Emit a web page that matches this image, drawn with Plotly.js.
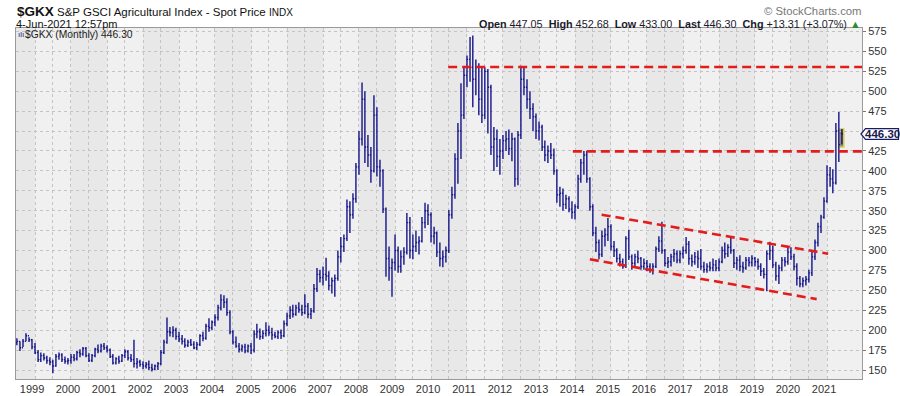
<!DOCTYPE html>
<html><head><meta charset="utf-8">
<script src="https://cdn.plot.ly/plotly-3.0.1.min.js"></script>
<style>html,body{margin:0;padding:0;background:#fff;}#chart{width:900px;height:396px;}</style>
</head><body><div id="chart"></div>
<script>
// ---- data: $GKX monthly OHLC, Jul 1998 .. Jun 2021 ----
const firstYear = 1998, firstMonth = 7;
const yearLabels = ['1999','2000','2001','2002','2003','2004','2005','2006','2007','2008','2009','2010','2011','2012','2013','2014','2015','2016','2017','2018','2019','2020','2021'];
const priceTicks = [150,175,200,225,250,275,300,325,350,375,400,425,450,475,500,525,550,575];
const priceTickLabels = ['150','175','200','225','250','275','300','325','350','375','400','425','','475','500','525','550','575']; // 450 sits under the price tag
const openVals = [
184,186,178,186,193,188,
179,172,163,168,165,162,160,155,167,169,163,161,
162,166,164,172,170,177,168,162,168,176,174,180,
178,175,167,159,164,161,168,173,165,163,158,160,
157,155,157,153,151,155,158,172,185,198,197,200,
192,189,186,181,185,182,178,182,193,190,205,203,
210,216,228,238,235,222,198,185,180,176,179,174,
180,175,195,198,192,196,200,197,194,192,197,193,
208,218,225,220,228,226,222,230,220,224,252,270,
266,270,268,256,262,265,292,305,315,355,345,365,
405,440,490,430,420,400,470,405,400,352,290,278,
285,300,280,292,298,335,300,305,310,312,335,350,
345,318,322,298,290,292,300,345,370,415,450,470,
520,540,530,515,530,490,470,525,505,430,440,418,
425,438,440,428,440,390,445,515,505,490,478,468,
450,455,430,420,425,420,400,370,372,358,365,352,
348,355,390,410,420,390,355,322,310,295,318,320,
330,305,300,290,286,280,315,292,284,292,290,280,
284,280,276,280,302,312,300,284,286,292,296,288,
296,300,308,290,286,292,290,280,276,280,278,282,
278,286,300,296,304,300,284,288,280,278,288,285,
290,286,280,274,270,296,300,282,268,278,288,286,
298,292,280,265,258,262,264,272,292,310,330,342,
362,395,390,385,450,447.05];
const highVals = [
190,186,189,196,191,189,
184,175,172,171,168,166,163,170,172,171,167,165,
170,170,174,176,179,179,171,170,178,182,183,184,
181,177,170,166,168,170,176,175,170,188,165,163,
161,160,162,158,157,160,175,188,216,204,205,203,
198,194,190,188,189,186,185,195,198,208,215,212,
220,232,245,244,240,225,200,192,184,182,183,182,
184,200,208,202,200,210,206,203,198,200,201,212,
222,230,232,232,235,232,245,234,228,258,278,276,
280,291,274,266,270,300,317,320,364,362,372,410,
450,511,500,445,430,495,480,414,402,354,305,290,
320,305,300,304,347,342,320,325,318,342,360,358,
348,330,324,310,300,305,351,380,422,460,510,530,
545,568,570,540,535,530,530,528,508,455,452,440,
445,450,452,448,442,450,532,530,515,500,485,472,
462,458,438,432,435,428,402,380,378,370,368,362,
358,395,415,425,425,392,358,330,314,325,328,341,
333,312,303,296,290,318,326,295,296,300,292,290,
288,284,284,305,318,336,302,292,296,302,300,300,
305,317,312,295,298,300,302,286,284,286,290,288,
290,305,310,308,318,302,292,294,286,292,292,294,
292,290,284,278,300,311,306,286,282,292,292,305,
304,296,284,268,266,268,276,298,314,335,345,367,
407,405,402,460,474,452.68];
const lowVals = [
181,174,179,186,185,176,
170,160,160,162,158,156,146,154,163,160,158,157,
158,161,162,166,168,166,160,160,166,171,172,175,
172,165,157,157,158,160,165,162,160,153,152,154,
151,152,150,148,150,150,156,170,183,192,191,188,
185,182,178,179,180,176,175,180,186,188,198,200,
205,212,225,228,218,195,182,178,172,173,171,172,
170,172,190,188,189,192,193,188,190,189,189,191,
205,214,216,218,222,218,220,215,214,222,248,260,
256,262,250,246,242,262,285,298,312,322,340,360,
395,432,410,405,385,398,393,380,347,267,262,242,
275,272,272,282,295,290,289,298,295,310,328,332,
310,308,292,280,279,285,297,340,365,384,415,465,
505,512,480,495,470,460,465,447,420,400,405,395,
415,425,420,412,380,382,440,495,478,465,450,440,
438,425,412,410,415,395,360,355,350,352,348,340,
339,352,385,395,385,350,318,298,289,292,305,312,
300,292,285,280,277,278,288,276,278,284,276,276,
274,272,270,278,298,296,280,278,280,286,284,284,
290,296,282,280,282,278,276,272,272,274,274,274,
274,284,290,292,296,278,276,274,272,276,280,280,
280,276,268,265,249,288,278,262,258,274,280,282,
288,275,256,254,254,256,260,268,288,305,322,340,
360,380,372,383,411,433];
const closeVals = [
186,178,186,193,188,179,
172,163,168,165,162,160,155,167,169,163,161,162,
166,164,172,170,177,168,162,168,176,174,180,178,
175,167,159,164,161,168,173,165,163,158,160,157,
155,157,153,151,155,158,172,185,198,197,200,192,
189,186,181,185,182,178,182,193,190,205,203,210,
216,228,238,235,222,198,185,180,176,179,174,180,
175,195,198,192,196,200,197,194,192,197,193,208,
218,225,220,228,226,222,230,220,224,252,270,266,
270,268,256,262,265,292,305,315,355,345,365,405,
440,490,430,420,400,470,405,400,352,290,278,285,
300,280,292,298,335,300,305,310,312,335,350,345,
318,322,298,290,292,300,345,370,415,450,470,520,
540,530,515,530,490,470,525,505,430,440,418,425,
438,440,428,440,390,445,515,505,490,478,468,450,
455,430,420,425,420,400,370,372,358,365,352,348,
355,390,410,420,390,355,322,310,295,318,320,330,
305,300,290,286,280,315,292,284,292,290,280,284,
280,276,280,302,312,300,284,286,292,296,288,296,
300,308,290,286,292,290,280,276,280,278,282,278,
286,300,296,304,300,284,288,280,278,288,285,290,
286,280,274,270,296,300,282,268,278,288,286,298,
292,280,265,258,262,264,272,292,310,330,342,362,
395,390,385,450,432.99,446.3];

// hand-drawn trendlines (endpoints)
const topResistX = ['2010-06-24','2021-12-22'], topResistY = [530.5, 530.5];
const midResistX = ['2013-12-10','2021-12-22'], midResistY = [424.5, 424.5];
const chanUpX = ['2014-09-28','2021-01-13'], chanUpY = [345, 296];
const chanLoX = ['2014-06-01','2020-09-18'], chanLoY = [289, 239];

const lastInfo = {open:'447.05', high:'452.68', low:'433.00', last:'446.30', chg:'+13.31', pct:'+3.07%'};

// ---- build ----
function pad(n){return (n<10?'0':'')+n;}
const dates = [];
{ let y = firstYear, m = firstMonth;
  for (let i = 0; i < closeVals.length; i++) { dates.push(y+'-'+pad(m)+'-01'); m++; if (m>12){m=1;y++;} } }

const FONT = 'Liberation Sans, Arial, sans-serif';
const NAVY = '#15158a';
const RED = '#e31c1c';
const L = 16, R = 38, T = 28, B = 17, W = 900, H = 396;
const PW = W - L - R, PH = H - T - B;
const px = x => (x - L) / PW;
const py = y => (H - B - y) / PH;
const yMin = 138.7, yMax = 579.4;

const traces = [{
  type:'ohlc', x:dates, open:openVals, high:highVals, low:lowVals, close:closeVals,
  increasing:{line:{color:NAVY,width:1.4}}, decreasing:{line:{color:NAVY,width:1.4}},
  tickwidth:0.4, hoverinfo:'skip', showlegend:false
}];
[[topResistX,topResistY],[midResistX,midResistY],[chanUpX,chanUpY],[chanLoX,chanLoY]].forEach(p=>{
  traces.push({type:'scatter',mode:'lines',x:p[0],y:p[1],line:{color:RED,width:2.6,dash:'9px,5px'},hoverinfo:'skip',showlegend:false});
});

const shapes = [];
// alternating yearly shading
for (let yr = 1998; yr <= 2021; yr++) {
  if (yr % 2 === 0) shapes.push({type:'rect',xref:'x',yref:'paper',x0:yr+'-01-01',x1:(yr+1)+'-01-01',y0:0,y1:1,fillcolor:'#e8e8e8',line:{width:0},layer:'below'});
}
// latest bar highlight
const lastIdx = closeVals.length-1;
shapes.push({type:'rect',xref:'x',yref:'y',x0:'2021-05-03',x1:'2021-06-20',y0:lowVals[lastIdx]-3,y1:highVals[lastIdx],fillcolor:'#8e8e86',line:{color:'#d8cc3a',width:1.5},layer:'below'});
// price tag
const ty = (closeVals[lastIdx]-yMin)/(yMax-yMin);
const hh = 5.3/PH;
shapes.push({type:'path',xref:'paper',yref:'paper',
  path:`M ${px(861)},${ty} L ${px(865.5)},${ty+hh} L ${px(898.5)},${ty+hh} L ${px(898.5)},${ty-hh} L ${px(865.5)},${ty-hh} Z`,
  fillcolor:'#ffffff',line:{color:'#1a1a6a',width:1.2},layer:'above'});

const ann = [
  {text:'<span style="font-size:13.5px;font-weight:bold">$GKX</span> S&P GSCI Agricultural Index - Spot Price <span style="font-size:10px">INDX</span>',x:px(15),y:py(11.5),size:11.5,color:'#111'},
  {text:'4-Jun-2021 12:57pm',x:px(14),y:py(23.5),size:11,color:'#111'},
  {text:'$GKX (Monthly) 446.30',x:px(23),y:py(34.5),size:10.3,color:'#222'},
  {text:'ılı',x:px(16),y:py(34),size:8,color:NAVY},
].map(a=>({text:a.text,x:a.x,y:a.y,xref:'paper',yref:'paper',xanchor:'left',yanchor:'middle',showarrow:false,font:{family:FONT,size:a.size,color:a.color}}));
ann.push({text:'© StockCharts.com',x:px(863),y:py(11),xref:'paper',yref:'paper',xanchor:'right',yanchor:'middle',showarrow:false,font:{family:FONT,size:11.3,color:'#777'}});
ann.push({text:`<b>Open</b> ${lastInfo.open}&nbsp;&nbsp;<b>High</b> ${lastInfo.high}&nbsp;&nbsp;<b>Low</b> ${lastInfo.low}&nbsp;&nbsp;<b>Last</b> ${lastInfo.last}&nbsp;&nbsp;<b>Chg</b> ${lastInfo.chg} (${lastInfo.pct}) <span style="color:#2e8b2e">▲</span>`,
  x:px(863),y:py(24),xref:'paper',yref:'paper',xanchor:'right',yanchor:'middle',showarrow:false,font:{family:FONT,size:10.8,color:'#1a1a2a'}});
ann.push({text:'<b>'+closeVals[lastIdx].toFixed(2)+'</b>',x:px(882),y:closeVals[lastIdx],xref:'paper',yref:'y',xanchor:'center',yanchor:'middle',showarrow:false,font:{family:FONT,size:11.5,color:'#1a1a4a'}});

const tickDates = yearLabels.map(y=>y+'-01-01');
const layout = {
  width:W,height:H,margin:{l:L,r:R,t:T,b:B,pad:0},
  paper_bgcolor:'#ffffff',plot_bgcolor:'#f0f0f0',
  font:{family:FONT,size:11,color:'#333'},
  showlegend:false,
  xaxis:{type:'date',range:['1998-06-22','2021-12-22'],tickmode:'array',tickvals:tickDates,ticktext:yearLabels,
    ticks:'',ticklabelshift:-3,tickfont:{family:FONT,size:11,color:'#333'},
    showgrid:true,gridcolor:'#c4c4c4',griddash:'dot',gridwidth:1,
    minor:{tickmode:'array',tickvals:yearLabels.map(y=>(+y-1)+'-07-01'),showgrid:true,gridcolor:'#c4c4c4',griddash:'dot',gridwidth:1},
    showline:true,linecolor:'#9a9a9a',linewidth:1,mirror:true,zeroline:false,rangeslider:{visible:false},fixedrange:true},
  yaxis:{side:'right',range:[yMin,yMax],tickmode:'array',tickvals:priceTicks,ticktext:priceTickLabels,ticks:'outside',ticklen:3,tickcolor:'#777',
    tickfont:{family:FONT,size:11,color:'#333'},showgrid:true,gridcolor:'#c4c4c4',griddash:'dot',gridwidth:1,
    showline:true,linecolor:'#9a9a9a',linewidth:1,mirror:true,zeroline:false,fixedrange:true},
  shapes:shapes,annotations:ann
};
Plotly.newPlot('chart',traces,layout,{displayModeBar:false,staticPlot:true});
</script></body></html>
